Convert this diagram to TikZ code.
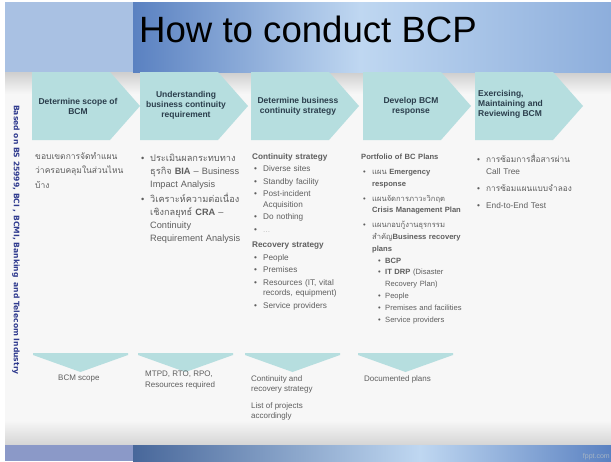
\documentclass[tikz,border=0pt]{standalone}
\usepackage{fontspec}
\setmainfont{Liberation Sans}
\newfontfamily\thaifont[Script=Thai]{Loma}
\newfontfamily\sidefont{DejaVu Sans}
\usepackage{tikz}
\usetikzlibrary{positioning}
\definecolor{chevfill}{HTML}{B6DEDF}
\definecolor{chevtext}{HTML}{2B3E4C}
\definecolor{bodygray}{HTML}{5E5E5E}
\definecolor{sidenavy}{HTML}{2F3A8E}
\definecolor{bandlight}{HTML}{A9C1E3}
\definecolor{banddark}{HTML}{5A81C1}
\definecolor{bandhigh}{HTML}{BFD7F1}
\definecolor{bandright}{HTML}{8DAEDC}
\newcommand{\thx}[1]{{\thaifont #1}}
\newcommand{\itm}[1]{\par\hangindent=11pt\hangafter=1\noindent\hbox to 11pt{\hskip2pt\textbullet\hss}#1\par}
\newcommand{\subitm}[1]{\par\vspace{-3pt}\hangindent=24pt\hangafter=1\noindent\hbox to 24pt{\hskip17pt\textbullet\hss}#1\par}

\begin{document}
\begin{tikzpicture}[x=1pt, y=-1pt,
	stepfont/.style={font=\fontsize{8.5}{10}\selectfont\bfseries, text=chevtext, inner sep=0},
	coltext/.style={anchor=north west, inner sep=0, align=left, text=bodygray,
		execute at begin node={\lineskiplimit=-20pt\parskip=2.2pt}},
	outtext/.style={anchor=north west, inner sep=0, align=left, text=bodygray, font=\fontsize{8}{10.5}\selectfont}]
	\useasboundingbox (0,0) rectangle (611,461);
	\fill[white] (0,0) rectangle (611,461);
	\fill[gray!6] (5,72) rectangle (611,445);
	\shade[top color=gray!38, bottom color=gray!6] (5,72) rectangle (611,94);
	\shade[top color=gray!6, bottom color=gray!33] (5,420) rectangle (611,445);
	\fill[bandlight] (5,2) rectangle (133,72);
	\shade[left color=banddark, right color=bandhigh] (133,2) rectangle (360,72);
	\shade[left color=bandhigh, right color=bandright] (360,2) rectangle (611,72);
	\fill[bandlight!85!blue!70!gray] (5,445) rectangle (133,461);
	\shade[left color=banddark!80!black, right color=bandhigh] (133,445) rectangle (420,461);
	\shade[left color=bandhigh, right color=banddark] (420,445) rectangle (611,461);

	\node[anchor=west, inner sep=0, font=\fontsize{36.6}{40}\selectfont] (title) at (139,29) {How to conduct BCP};
	\node[rotate=-90, inner sep=0, text=sidenavy, font=\fontsize{7.6}{9}\selectfont\sidefont\bfseries] (basis) at (16,240) {Based on BS 25999, BCI , BCMI, Banking\ \ and Telecom Industry};
	\node[anchor=south east, inner sep=1, text=bandhigh!60!gray, font=\fontsize{7}{8}\selectfont] (fppt) at (611,461) {fppt.com};

	\foreach \x [count=\i] in {32,140,251,363,475}
		\fill[chevfill] (\x,72) -- ++(78,0) -- ++(30,34) -- ++(-30,34) -- ++(-78,0) -- cycle;
	\foreach \x [count=\i] in {33,138,245,358}
		\fill[chevfill] (\x,353) -- ++(95,0) -- ++(0,2) -- ++(-47.5,17) -- ++(-47.5,-17) -- cycle;

	\node[stepfont, align=center] (scope) at (78,106) {Determine scope of\\BCM};
	\node[stepfont, align=center] (understand) at (186,105) {Understanding\\business continuity\\requirement};
	\node[stepfont, align=center] (strategy) at (298,106) {Determine business\\continuity strategy};
	\node[stepfont, align=center] (response) at (411,106) {Develop BCM\\response};
	\node[stepfont, align=left, anchor=west] (exercise) at (478,104) {Exercising,\\Maintaining and\\Reviewing BCM};

	\node[coltext, text width=100, font=\fontsize{8.5}{14.5}\selectfont\thaifont] (scopetext) at (35,152) {ขอบเขตการจัดทำแผน\\ว่าครอบคลุมในส่วนไหน\\บ้าง};
	\node[coltext, text width=108, font=\fontsize{9.2}{13}\selectfont] (understandtext) at (139,146) {%
		\itm{\thx{ประเมินผลกระทบทาง}\newline\thx{ธุรกิจ} \textbf{BIA} -- Business\newline Impact Analysis}
		\itm{\thx{วิเคราะห์ความต่อเนื่อง}\newline\thx{เชิงกลยุทธ์} \textbf{CRA} --\newline Continuity\newline Requirement Analysis}};
	\node[coltext, text width=106, font=\fontsize{8.2}{10.5}\selectfont, execute at begin node={\parskip=2pt}] (strategytext) at (252,153) {%
		\textbf{Continuity strategy}\par
		\itm{Diverse sites}
		\itm{Standby facility}
		\itm{Post-incident\newline Acquisition}
		\itm{Do nothing}
		\itm{\textcolor{gray!50}{...}}
		\vspace{3pt}\textbf{Recovery strategy}\par
		\itm{People}
		\itm{Premises}
		\itm{Resources (IT, vital\newline records, equipment)}
		\itm{Service providers}};
	\node[coltext, text width=112, font=\fontsize{7.6}{11.8}\selectfont, execute at begin node={\parskip=3pt}] (responsetext) at (361,154) {%
		\textbf{Portfolio of BC Plans}\par
		\itm{\thx{แผน} \textbf{Emergency}\newline\textbf{response}}
		\itm{\thx{แผนจัดการภาวะวิกฤต}\newline\textbf{Crisis Management Plan}}
		\itm{\thx{แผนกอบกู้งานธุรกรรม}\newline\thx{สำคัญ}\textbf{Business recovery}\newline\textbf{plans}}
		\subitm{\textbf{BCP}}
		\subitm{\textbf{IT DRP} (Disaster\newline Recovery Plan)}
		\subitm{People}
		\subitm{Premises and facilities}
		\subitm{Service providers}};
	\node[coltext, text width=120, font=\fontsize{8.3}{12}\selectfont, execute at begin node={\parskip=5pt}] (exercisetext) at (475,145) {%
		\itm{\thx{การซ้อมการสื่อสารผ่าน}\newline Call Tree}
		\itm{\thx{การซ้อมแผนแบบจำลอง}}
		\itm{End-to-End Test}};

	\node[outtext] (scopeout) at (58,375) {BCM scope};
	\node[outtext] (understandout) at (145,371) {MTPD, RTO, RPO,\\Resources required};
	\node[outtext] (strategyout) at (251,375) {Continuity and\\recovery strategy};
	\node[outtext] (projects) at (251,402) {List of projects\\accordingly};
	\node[outtext] (responseout) at (364,375) {Documented plans};
\end{tikzpicture}
\end{document}
